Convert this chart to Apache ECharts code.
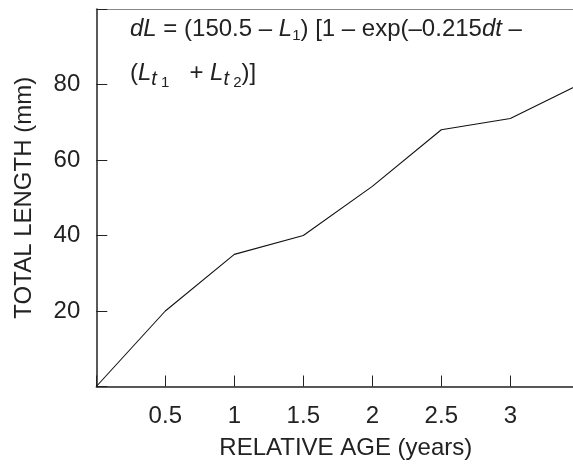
<!DOCTYPE html>
<html>
<head>
<meta charset="utf-8">
<script src="https://cdn.jsdelivr.net/npm/echarts@6/dist/echarts.min.js"></script>
<style>html,body{margin:0;padding:0;background:#fff}#c{width:573px;height:464px}</style>
</head>
<body>
<div id="c"></div>
<script>
const ages = [0, 0.5, 1, 1.5, 2, 2.5, 3, 3.5];
const lengths = [0, 20, 35, 40, 53, 68, 71, 80];
const xTicks = [0.5, 1, 1.5, 2, 2.5, 3];
const yTicks = [20, 40, 60, 80];
const xTitle = 'RELATIVE AGE (years)';
const yTitle = 'TOTAL LENGTH (mm)';

const FONT = '"Liberation Sans", Arial, Helvetica, sans-serif';
const FS = 24;
const TXT = '#222';
const chart = echarts.init(document.getElementById('c'), null, {renderer: 'canvas'});
const rich = {
  i: {fontStyle: 'italic', fontSize: FS, fontFamily: FONT, color: TXT},
  s: {fontSize: 15, fontFamily: FONT, color: TXT, padding: [14, 0, 0, 0]},
  st: {fontSize: 20, fontStyle: 'italic', fontFamily: FONT, color: TXT, padding: [12, 0, 0, 0]},
  ss: {fontSize: 15, fontFamily: FONT, color: TXT, padding: [20, 0, 0, 0]}
};
chart.setOption({
  animation: false,
  grid: {left: 96.3, right: -6.3, top: 9, bottom: 77.5, containLabel: false, outerBoundsMode: 'none'},
  xAxis: [{
    type: 'value', min: 0, max: 3.5, interval: 0.5,
    name: xTitle, nameLocation: 'middle', nameGap: 50,
    nameTextStyle: {fontSize: FS, fontFamily: FONT, color: TXT, padding: [0, 0, 0, 16]},
    axisLine: {onZero: false, lineStyle: {color: '#222', width: 1.5}},
    axisTick: {inside: true, length: 11, lineStyle: {color: '#222', width: 1}},
    axisLabel: {margin: 18, fontSize: FS, fontFamily: FONT, color: TXT,
      formatter: v => xTicks.indexOf(v) >= 0 ? String(v) : ''},
    splitLine: {show: false}
  }, {
    type: 'value', position: 'top', min: 0, max: 3.5,
    axisLine: {show: true, onZero: false, lineStyle: {color: '#888', width: 1.2}},
    axisTick: {show: false}, axisLabel: {show: false}, splitLine: {show: false}
  }],
  yAxis: {
    type: 'value', min: 0, max: 100, interval: 20,
    name: yTitle, nameLocation: 'middle', nameGap: 60,
    nameTextStyle: {fontSize: FS, fontFamily: FONT, color: TXT},
    axisLine: {onZero: false, lineStyle: {color: '#222', width: 1.5}},
    axisTick: {inside: true, length: 11, lineStyle: {color: '#222', width: 1}},
    axisLabel: {margin: 16, fontSize: FS, fontFamily: FONT, color: TXT,
      formatter: v => yTicks.indexOf(v) >= 0 ? String(v) : ''},
    splitLine: {show: false}
  },
  series: [{
    type: 'line', data: ages.map((a, i) => [a, lengths[i]]),
    showSymbol: false, lineStyle: {color: '#111', width: 1.1}, clip: true
  }],
  graphic: [{
    type: 'text', left: 130, top: 17,
    style: {
      text: '{i|dL} = (150.5 – {i|L}{s|1}) [1 – exp(–0.215{i|dt} –',
      font: FS + 'px ' + FONT, fill: TXT, rich: rich
    }
  }, {
    type: 'text', left: 130, top: 61,
    style: {
      text: '({i|L}{st|t}{ss| 1}   + {i|L}{st|t}{ss| 2})]',
      font: FS + 'px ' + FONT, fill: TXT, rich: rich
    }
  }]
});
</script>
</body>
</html>
